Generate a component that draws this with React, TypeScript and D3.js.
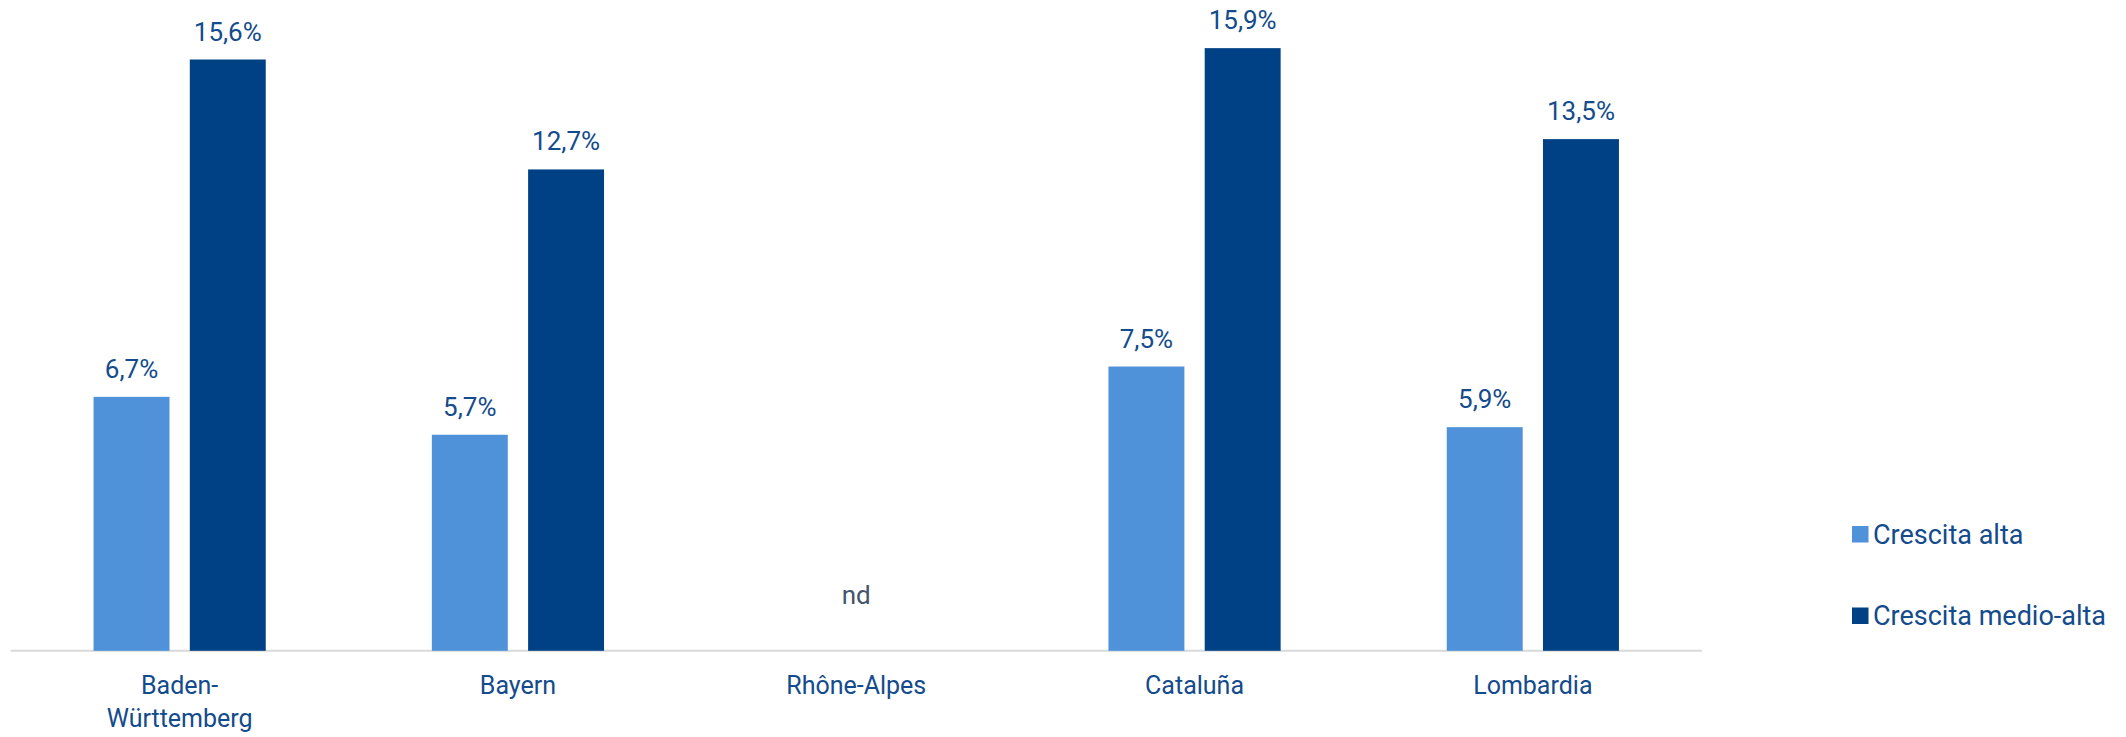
import { scaleBand, scaleLinear, select } from "d3";
import { useEffect, useRef } from "react";

const categories = ["Baden-\nWürttemberg", "Bayern", "Rhône-Alpes", "Cataluña", "Lombardia"];
const seriesNames = ["Crescita alta", "Crescita medio-alta"];
const crescitaAlta: (number | null)[] = [6.7, 5.7, null, 7.5, 5.9];
const crescitaMedioAlta: (number | null)[] = [15.6, 12.7, null, 15.9, 13.5];
const colors = ["#4f92d9", "#004186"];

const WIDTH = 2126;
const HEIGHT = 737;
const FONT = "Roboto, 'Open Sans', sans-serif";
const TEXT = "#134b8c";

const fmt = (v: number) => v.toFixed(1).replace(".", ",") + "%";

const App = () => {
  const ref = useRef<SVGSVGElement>(null);

  useEffect(() => {
    if (!ref.current) return;
    const svg = select(ref.current);
    svg.selectAll("*").remove();

    const x0 = scaleBand<string>()
      .domain(categories)
      .range([10.5, 1702])
      .paddingInner(0.491)
      .paddingOuter(0.2455);

    const x1 = scaleBand<string>()
      .domain(seriesNames)
      .range([0, x0.bandwidth()])
      .paddingInner(0.211);

    const y = scaleLinear().domain([0, 17.17]).range([650.8, 0]);

    const rows = categories.map((c, i) => ({
      cat: c,
      values: [crescitaAlta[i], crescitaMedioAlta[i]],
    }));

    // axis line
    svg
      .append("line")
      .attr("x1", 10.5)
      .attr("x2", 1702)
      .attr("y1", y(0))
      .attr("y2", y(0))
      .attr("stroke", "#d9d9d9")
      .attr("stroke-width", 2);

    const groups = svg
      .selectAll(".group")
      .data(rows)
      .join("g")
      .classed("group", true)
      .attr("transform", (d) => `translate(${x0(d.cat)},0)`);

    groups.each(function (d) {
      const g = select(this);
      d.values.forEach((v, si) => {
        if (v == null) return;
        const bx = x1(seriesNames[si]) as number;
        g.append("rect")
          .attr("x", bx)
          .attr("y", y(v))
          .attr("width", x1.bandwidth())
          .attr("height", y(0) - y(v))
          .attr("fill", colors[si]);
        g.append("text")
          .attr("x", bx + x1.bandwidth() / 2)
          .attr("y", y(v) - 19)
          .attr("text-anchor", "middle")
          .attr("font-family", FONT)
          .attr("font-size", 26)
          .attr("fill", TEXT)
          .text(fmt(v));
      });
      if (d.values.every((v) => v == null)) {
        g.append("text")
          .attr("x", x0.bandwidth() / 2)
          .attr("y", y(0) - 47)
          .attr("text-anchor", "middle")
          .attr("font-family", FONT)
          .attr("font-size", 26)
          .attr("fill", "#44546a")
          .text("nd");
      }
    });

    // category labels
    groups.each(function (d) {
      const t = select(this)
        .append("text")
        .attr("text-anchor", "middle")
        .attr("font-family", FONT)
        .attr("font-size", 25)
        .attr("fill", TEXT);
      d.cat.split("\n").forEach((line, li) => {
        t.append("tspan")
          .attr("x", x0.bandwidth() / 2)
          .attr("y", 694 + li * 32.5)
          .text(line);
      });
    });

    // legend
    const legend = svg
      .selectAll(".legend")
      .data(seriesNames)
      .join("g")
      .classed("legend", true)
      .attr("transform", (_, i) => `translate(1852,${526 + i * 81.5})`);
    legend
      .append("rect")
      .attr("width", 16.5)
      .attr("height", 16.5)
      .attr("fill", (_, i) => colors[i]);
    legend
      .append("text")
      .attr("x", 21)
      .attr("y", 17.5)
      .attr("font-family", FONT)
      .attr("font-size", 27)
      .attr("fill", TEXT)
      .text((d) => d);
  }, []);

  return (
    <svg
      ref={ref}
      width={WIDTH}
      height={HEIGHT}
      style={{ position: "absolute", left: 0, top: 0, display: "block", background: "#fff" }}
    />
  );
};

export default App;
